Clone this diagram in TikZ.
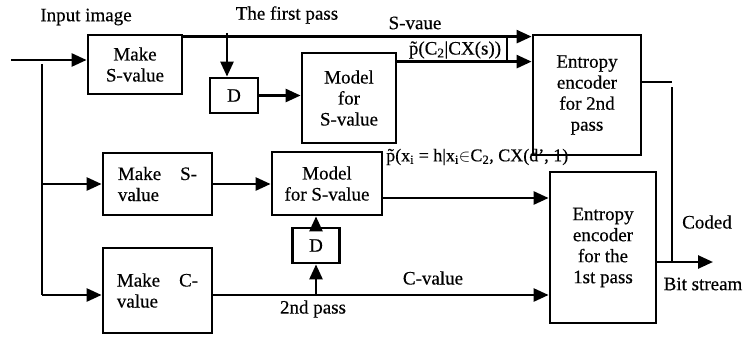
\documentclass[tikz,border=0pt]{standalone}
\usepackage{fontspec}
\setmainfont{Liberation Serif}[FakeBold=0.4]
\usetikzlibrary{arrows.meta}
\usetikzlibrary{calc}

\tikzset{
  blk/.style={draw, line width=2.8pt, align=center, inner sep=1pt},
  arr/.style={line width=2.6pt, -{Triangle[length=15pt,width=13pt]}},
  ln/.style={line width=2.6pt},
}

\begin{document}
\begin{tikzpicture}[x=1pt,y=-1pt,font=\fontsize{19}{21}\selectfont]
\useasboundingbox (0,0) rectangle (744,337);

% first pass
\node[blk, minimum width=94pt, minimum height=59pt] (ms1) at (135,64.5) {Make\\S-value};
\node[blk, minimum width=48pt, minimum height=35pt] (d1) at (234,95.5) {D};
\node[blk, minimum width=94pt, minimum height=90pt] (mod1) at (349,98) {Model\\for\\S-value};
\node[blk, minimum width=108pt, minimum height=120pt] (enc2) at (587,95) {Entropy\\encoder\\for 2nd\\pass};

% second pass
\node[blk, minimum width=109pt, minimum height=62pt, align=left] (ms2) at (157.5,184) {Make\quad S-\\value};
\node[blk, minimum width=110pt, minimum height=63pt] (mod2) at (327,183.5) {Model\\for S-value};
\node[blk, minimum width=47pt, minimum height=35pt] (d2) at (316,245.5) {D};
\node[blk, minimum width=109pt, minimum height=85pt, align=left] (mc) at (157.5,290.5) {Make\quad C-\\value};
\node[blk, minimum width=106pt, minimum height=151pt] (enc1) at (603,247.5) {Entropy\\encoder\\for the\\1st pass};

% labels
\node (lin) at (86,17) {Input image};
\node (lfp) at (287,15) {The first pass};
\node (lsv) at (415,23) {S-vaue};
\node (lp1) at (455,50) {\~{p}(C\textsubscript{2}|CX(s))};
\node[anchor=west, inner sep=0pt, font=\fontsize{18}{20}\selectfont] (lp2) at (386,157) {\~{p}(x\textsubscript{i} = h|x\textsubscript{i}$\in$C\textsubscript{2}, CX(d', 1)};
\node (lcv) at (433,278) {C-value};
\node (l2p) at (313,309) {2nd pass};
\node (lcd) at (707,222) {Coded};
\node (lbs) at (703,284) {Bit stream};

\coordinate (in) at (11,60);
\coordinate (br) at (42,64);
\coordinate (fp) at (227,33);
\coordinate (v1) at (507,37);
\coordinate (o2) at (672,82);
\coordinate (o2b) at (672,87);
\coordinate (bs) at (713,262);
\coordinate (cv) at (d2.south |- 0,295);

% connectors
\draw[arr] (in) -- (in -| ms1.west);
\draw[ln] (br) -- (42,295);
\draw[arr] (br |- ms2.west) -- (ms2.west);
\draw[arr] (br |- cv) -- (cv -| mc.west);
\draw[arr] ([yshift=-3pt]ms1.north east) -- ([yshift=-3pt]ms1.north east -| enc2.west);
\draw[arr] (fp) -- (fp |- d1.north);
\draw[arr] (d1.east) -- (d1.east -| mod1.west);
\draw[arr] ([yshift=-10pt]mod1.north east) -- ([yshift=-10pt]mod1.north east -| enc2.west);
\draw[ln] (v1) -- (v1 |- 0,62);
\draw[ln] (enc2.east |- o2) -- (o2);
\draw[ln] (o2b) -- (o2b |- bs);
\draw[arr] (enc1.east |- bs) -- (bs);
\draw[arr] (ms2.east) -- (ms2.east -| mod2.west);
\draw[arr] (mod2.east |- 0,198) -- (enc1.west |- 0,198);
\draw[arr] (cv -| mc.east) -- (cv -| enc1.west);
\draw[arr] (cv) -- (d2.south);
\draw[arr] (d2.north) -- (d2.north |- mod2.south);
\end{tikzpicture}
\end{document}
